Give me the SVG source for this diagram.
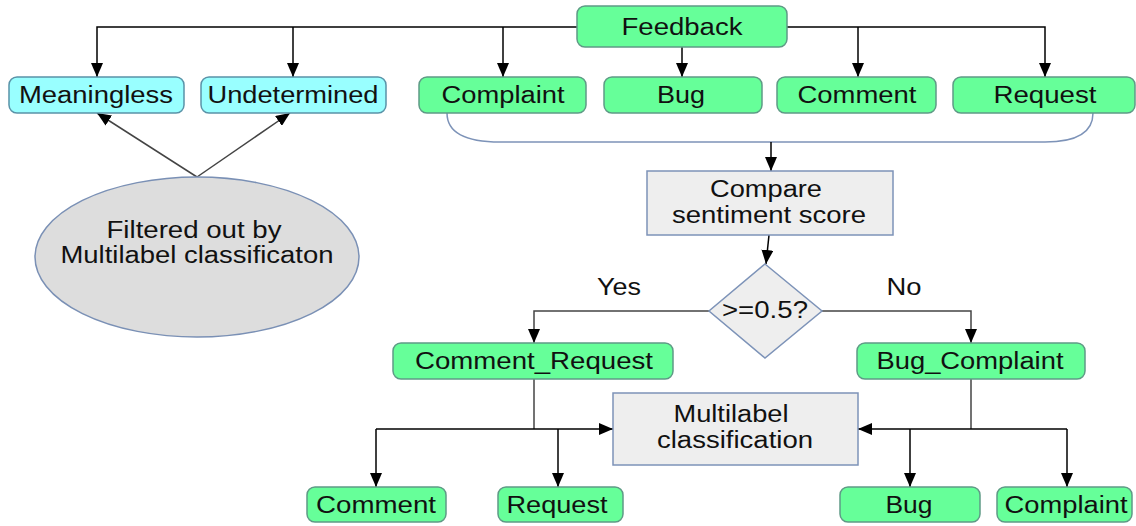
<svg xmlns="http://www.w3.org/2000/svg" width="1136" height="526" viewBox="0 0 1136 526">
<defs>
<marker id="ah" markerWidth="14" markerHeight="12" refX="14" refY="6" orient="auto" markerUnits="userSpaceOnUse"><path d="M0,0 L14,6 L0,12 z" fill="#000"/></marker>
<style>
.g{fill:#66ff99;stroke:#5f9a86;stroke-width:1.5}
.c{fill:#99ffff;stroke:#5a93a8;stroke-width:1.5}
.p{fill:#eeeeee;stroke:#7d93b8;stroke-width:1.5}
.e{fill:#dddddd;stroke:#7a90b5;stroke-width:1.5}
text{font-family:"Liberation Sans",Arial,sans-serif;font-size:23px;fill:#111;text-anchor:middle}
.k{fill:none;stroke:#000;stroke-width:1.5}
.kd{fill:none;stroke:#444;stroke-width:1.5}
.br{fill:none;stroke:#7d93b8;stroke-width:1.5}
</style>
</defs>
<g id="connectors">
<path class="k" d="M577,27 H97 V77" marker-end="url(#ah)"/>
<path class="k" d="M293,27 V77" marker-end="url(#ah)"/>
<path class="k" d="M503,27 V77" marker-end="url(#ah)"/>
<path class="k" d="M682,47 V77" marker-end="url(#ah)"/>
<path class="k" d="M787,27 H1045 V77" marker-end="url(#ah)"/>
<path class="k" d="M858,27 V77" marker-end="url(#ah)"/>
<path class="kd" d="M197,177 L97,113" marker-end="url(#ah)"/>
<path class="kd" d="M197,177 L290,113" marker-end="url(#ah)"/>
<path class="br" d="M447,113 C447,134 468,142 500,142 L1045,142 C1075,142 1093,134 1093,113"/>
<path class="k" d="M771,142 V171" marker-end="url(#ah)"/>
<path class="k" d="M769,235 L766,264" marker-end="url(#ah)"/>
<path class="kd" d="M709,311 H534 V343" marker-end="url(#ah)"/>
<path class="kd" d="M822,311 H971 V343" marker-end="url(#ah)"/>
<path class="kd" d="M534,379 V429"/>
<path class="k" d="M376,429 H613" marker-end="url(#ah)"/>
<path class="k" d="M376,429 V487" marker-end="url(#ah)"/>
<path class="k" d="M558,429 V487" marker-end="url(#ah)"/>
<path class="kd" d="M971,379 V429"/>
<path class="k" d="M1067,429 H858" marker-end="url(#ah)"/>
<path class="k" d="M910,429 V487" marker-end="url(#ah)"/>
<path class="k" d="M1067,429 V487" marker-end="url(#ah)"/>
<text x="619" y="295" textLength="44" lengthAdjust="spacingAndGlyphs">Yes</text>
<text x="904" y="295" textLength="35" lengthAdjust="spacingAndGlyphs">No</text>
</g>
<g id="feedback"><rect class="g" x="577" y="6" width="210" height="41" rx="8"/><text x="682" y="35" textLength="121" lengthAdjust="spacingAndGlyphs">Feedback</text></g>
<g id="meaningless"><rect class="c" x="9" y="77" width="175" height="36" rx="8"/><text x="96" y="103" textLength="154" lengthAdjust="spacingAndGlyphs">Meaningless</text></g>
<g id="undetermined"><rect class="c" x="201" y="77" width="185" height="36" rx="8"/><text x="293" y="103" textLength="171" lengthAdjust="spacingAndGlyphs">Undetermined</text></g>
<g id="complaint"><rect class="g" x="419" y="77" width="167" height="36" rx="8"/><text x="503" y="103" textLength="123" lengthAdjust="spacingAndGlyphs">Complaint</text></g>
<g id="bug"><rect class="g" x="604" y="77" width="158" height="36" rx="8"/><text x="681" y="103" textLength="48" lengthAdjust="spacingAndGlyphs">Bug</text></g>
<g id="comment"><rect class="g" x="777" y="77" width="159" height="36" rx="8"/><text x="857" y="103" textLength="119" lengthAdjust="spacingAndGlyphs">Comment</text></g>
<g id="request"><rect class="g" x="953" y="77" width="182" height="36" rx="8"/><text x="1045" y="103" textLength="103" lengthAdjust="spacingAndGlyphs">Request</text></g>
<g id="filtered"><ellipse class="e" cx="197" cy="257" rx="162" ry="80"/><text x="194" y="238" textLength="175" lengthAdjust="spacingAndGlyphs">Filtered out by</text><text x="197" y="263" textLength="273" lengthAdjust="spacingAndGlyphs">Multilabel classificaton</text></g>
<g id="compare"><rect class="p" x="647" y="171" width="246" height="64"/><text x="766" y="197" textLength="112" lengthAdjust="spacingAndGlyphs">Compare</text><text x="769" y="223" textLength="194" lengthAdjust="spacingAndGlyphs">sentiment score</text></g>
<g id="decision"><polygon class="p" points="765,264 822,311 765,358 709,311"/><text x="765" y="318" textLength="86" lengthAdjust="spacingAndGlyphs">&gt;=0.5?</text></g>
<g id="comment_request"><rect class="g" x="393" y="343" width="280" height="36" rx="8"/><text x="534" y="369" textLength="238" lengthAdjust="spacingAndGlyphs">Comment_Request</text></g>
<g id="bug_complaint"><rect class="g" x="857" y="343" width="228" height="36" rx="8"/><text x="970" y="369" textLength="187" lengthAdjust="spacingAndGlyphs">Bug_Complaint</text></g>
<g id="multilabel"><rect class="p" x="613" y="393" width="245" height="72"/><text x="731" y="422" textLength="115" lengthAdjust="spacingAndGlyphs">Multilabel</text><text x="735" y="448" textLength="156" lengthAdjust="spacingAndGlyphs">classification</text></g>
<g id="comment2"><rect class="g" x="307" y="487" width="139" height="35" rx="8"/><text x="376" y="513" textLength="120" lengthAdjust="spacingAndGlyphs">Comment</text></g>
<g id="request2"><rect class="g" x="498" y="487" width="125" height="35" rx="8"/><text x="557" y="513" textLength="101" lengthAdjust="spacingAndGlyphs">Request</text></g>
<g id="bug2"><rect class="g" x="840" y="487" width="140" height="35" rx="8"/><text x="909" y="513" textLength="47" lengthAdjust="spacingAndGlyphs">Bug</text></g>
<g id="complaint2"><rect class="g" x="997" y="487" width="135" height="35" rx="8"/><text x="1066" y="513" textLength="123" lengthAdjust="spacingAndGlyphs">Complaint</text></g>
</svg>
